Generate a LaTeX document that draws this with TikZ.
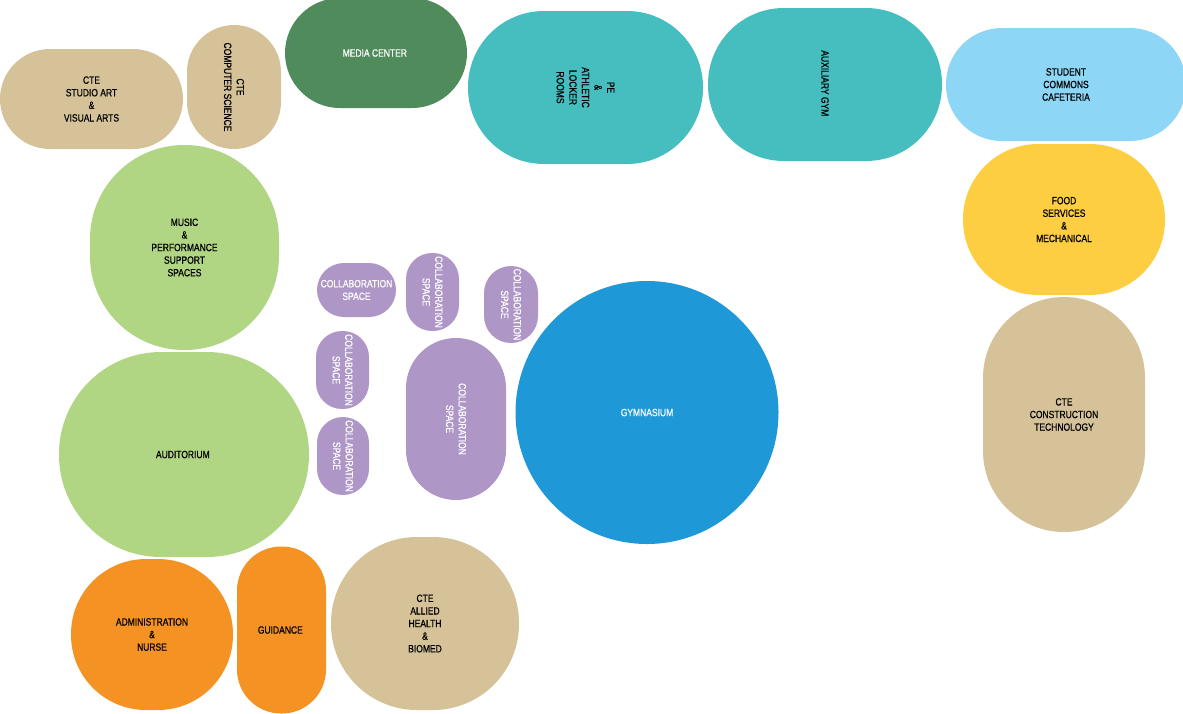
\documentclass[tikz,border=0pt]{standalone}
\usepackage{fontspec}
\setmainfont{Liberation Sans}[FakeStretch=0.81, FakeBold=0.6]
\usepackage{tikz}

\definecolor{cteTan}{RGB}{213,194,152}
\definecolor{mediaGreen}{RGB}{80,139,92}
\definecolor{gymTeal}{RGB}{70,189,191}
\definecolor{commonsBlue}{RGB}{141,214,245}
\definecolor{foodYellow}{RGB}{254,206,66}
\definecolor{musicGreen}{RGB}{176,214,132}
\definecolor{collabPurple}{RGB}{174,150,199}
\definecolor{gymBlue}{RGB}{30,152,214}
\definecolor{adminOrange}{RGB}{244,147,35}

\begin{document}
\begin{tikzpicture}[x=1pt, y=-1pt,
		room/.style={rectangle, draw=none, inner sep=0pt, align=center,
			font=\fontsize{10.5}{12.6}\selectfont},
		room side/.style={room, rotate=-90},
		room collab/.style={fill=collabPurple, text=white}]

		\useasboundingbox (0,0) rectangle (1183,713);

		% CTE wing, top left
		\node [room, fill=cteTan, minimum width=183, minimum height=100,
			rounded corners=50] (studio-art) at (91.5,99) {
			CTE\\STUDIO ART\\\&\\VISUAL ARTS
		};
		\node [room side, fill=cteTan, minimum width=124, minimum height=94,
			rounded corners=47] (comp-sci) at (234,87) {
			CTE\\COMPUTER SCIENCE
		};
		\node [room, fill=mediaGreen, text=white, minimum width=182, minimum height=110,
			rounded corners=55] (media) at (376,53) {
			MEDIA CENTER
		};

		% Athletics
		\node [room side, fill=gymTeal, minimum width=153, minimum height=235,
			rounded corners=76] (pe) at (585.5,87.5) {
			PE\\\&\\ATHLETIC\\LOCKER\\ROOMS
		};
		\node [room side, fill=gymTeal, minimum width=153, minimum height=234,
			rounded corners=76] (aux-gym) at (825,84.5) {
			AUXILIARY GYM
		};
		\node [circle, draw=none, inner sep=0pt, fill=gymBlue, text=white,
			minimum size=263, font=\fontsize{10.5}{12.6}\selectfont] (gym) at (647,412.5) {
			GYMNASIUM
		};

		% Commons
		\node [room, fill=commonsBlue, minimum width=240, minimum height=113,
			rounded corners=56] (commons) at (1066,84.5) {
			STUDENT\\COMMONS\\CAFETERIA
		};
		\node [room, fill=foodYellow, minimum width=202, minimum height=151,
			rounded corners=75] (food) at (1064,219.5) {
			FOOD\\SERVICES\\\&\\MECHANICAL
		};
		\node [room, fill=cteTan, minimum width=162, minimum height=235,
			rounded corners=81] (construction) at (1064,414.5) {
			CTE\\CONSTRUCTION\\TECHNOLOGY
		};

		% Performing arts
		\node [room, fill=musicGreen, minimum width=189, minimum height=205,
			rounded corners=94] (music) at (184.5,247.5) {
			MUSIC\\\&\\PERFORMANCE\\SUPPORT\\SPACES
		};
		\node [room, fill=musicGreen, minimum width=250, minimum height=205,
			rounded corners=102] (auditorium) at (184,454.5) {
			AUDITORIUM
		};

		% Collaboration
		\node [room, room collab, minimum width=79, minimum height=54,
			rounded corners=27] (collab-1) at (356.5,290) {
			COLLABORATION\\SPACE
		};
		\node [room side, room collab, minimum width=78, minimum height=53,
			rounded corners=26] (collab-2) at (432.5,292) {
			COLLABORATION\\SPACE
		};
		\node [room side, room collab, minimum width=77, minimum height=54,
			rounded corners=27] (collab-3) at (511,304.5) {
			COLLABORATION\\SPACE
		};
		\node [room side, room collab, minimum width=78, minimum height=53,
			rounded corners=26] (collab-4) at (342.5,370) {
			COLLABORATION\\SPACE
		};
		\node [room side, room collab, minimum width=78, minimum height=52,
			rounded corners=26] (collab-5) at (343,456) {
			COLLABORATION\\SPACE
		};
		\node [room side, room collab, minimum width=162, minimum height=100,
			rounded corners=50] (collab-6) at (456,419) {
			COLLABORATION\\SPACE
		};

		% Front office
		\node [room, fill=adminOrange, minimum width=162, minimum height=151,
			rounded corners=75] (admin) at (152,634.5) {
			ADMINISTRATION\\\&\\NURSE
		};
		\node [room, fill=adminOrange, minimum width=89, minimum height=167,
			rounded corners=44] (guidance) at (281.5,630) {
			GUIDANCE
		};
		\node [room, fill=cteTan, minimum width=188, minimum height=173,
			rounded corners=86] (allied-health) at (425,623.5) {
			CTE\\ALLIED\\HEALTH\\\&\\BIOMED
		};

	\end{tikzpicture}
\end{document}
